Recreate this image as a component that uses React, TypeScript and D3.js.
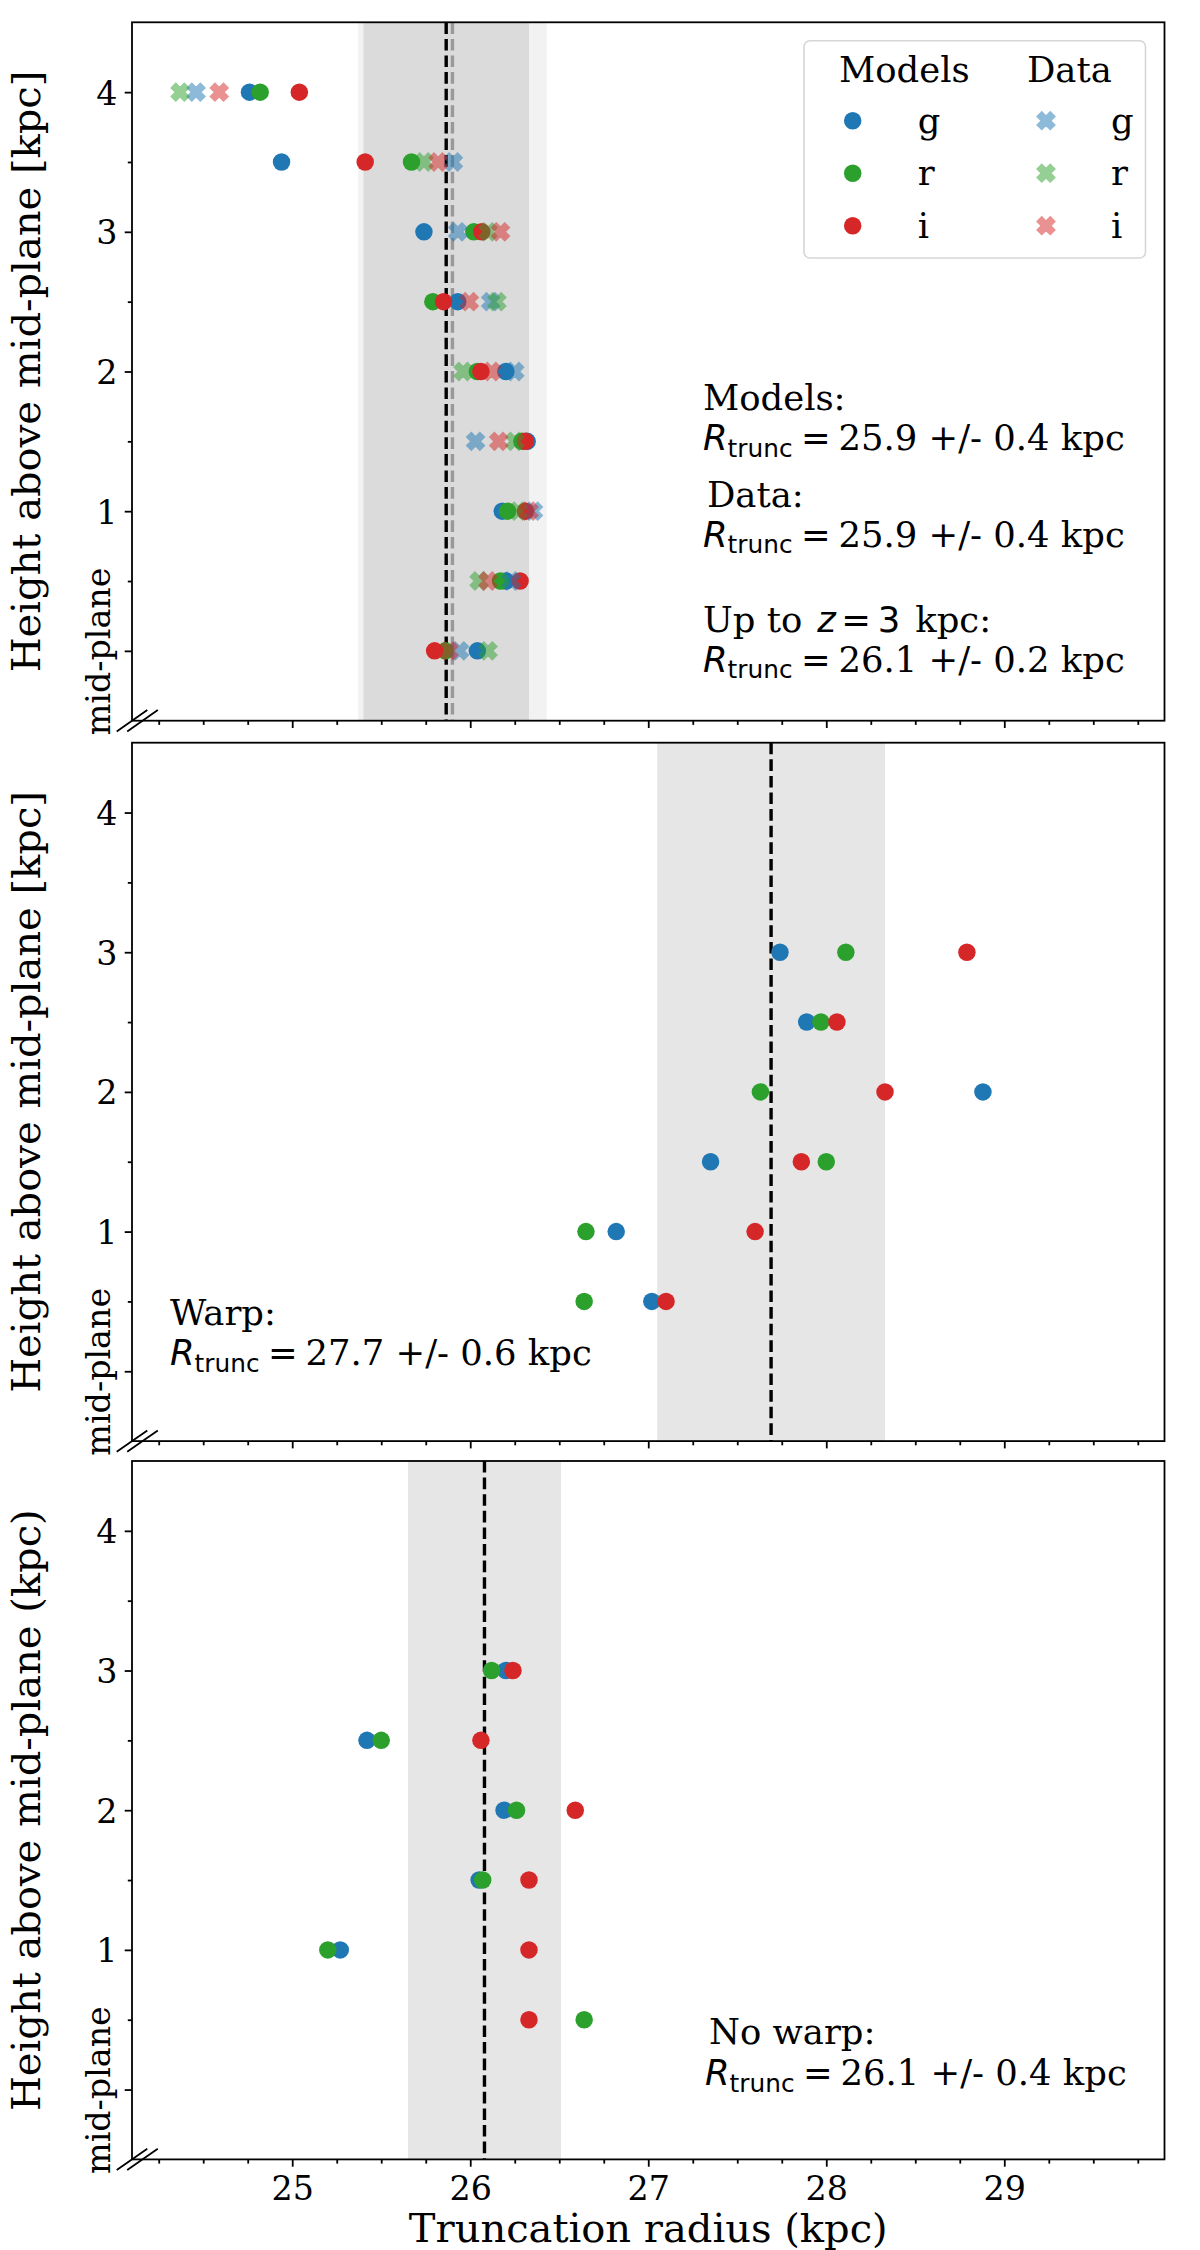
import React, { useEffect, useRef } from 'react';
import * as d3 from 'd3';

// heights above the mid-plane (kpc) for the top panel
const heights = [0, 0.5, 1, 1.5, 2, 2.5, 3, 3.5, 4];
// heights for the warp / no-warp panels
const subHeights = [0.5, 1, 1.5, 2, 2.5, 3];

// top panel: model fits (circles)
const modelG = [26.04, 26.2, 26.18, 26.32, 26.2, 25.93, 25.74, 24.94, 24.76];
const modelR = [25.86, 26.17, 26.21, 26.29, 26.04, 25.79, 26.02, 25.67, 24.82];
const modelI = [25.8, 26.28, 26.31, 26.31, 26.06, 25.85, 26.065, 25.41, 25.04];
// top panel: data (crosses)
const dataG = [25.94, 26.23, 26.355, 26.03, 26.25, 26.115, 25.93, 25.905, 24.46];
const dataR = [26.1, 26.05, 26.27, 26.25, 25.96, 26.15, 26.1, 25.74, 24.37];
const dataI = [25.88, 26.1, 26.33, 26.16, 26.12, 25.995, 26.17, 25.82, 24.59];

// middle panel: warp
const warpG = [27.02, 26.82, 27.35, 28.88, 27.89, 27.74];
const warpR = [26.64, 26.65, 28.0, 27.63, 27.97, 28.11];
const warpI = [27.1, 27.6, 27.86, 28.33, 28.06, 28.79];

// bottom panel: no warp
const noWarpG = [null, 25.27, 26.05, 26.19, 25.42, 26.2];
const noWarpR = [26.64, 25.2, 26.07, 26.26, 25.5, 26.12];
const noWarpI = [26.33, 26.33, 26.33, 26.59, 26.06, 26.24];

// mean truncation radius and spread (dashed line + shaded span)
const topModelMean = 25.865;
const topModelSpan = [25.4, 26.33];
const topDataMean = 25.9;
const topDataSpan = [25.37, 26.43];
const warpMean = 27.69;
const warpSpan = [27.05, 28.33];
const noWarpMean = 26.08;
const noWarpSpan = [25.65, 26.51];

const xMajor = [25, 26, 27, 28, 29];
const yMajor = [0, 1, 2, 3, 4];
const yTickLabels = ['mid-plane', '1', '2', '3', '4'];
const bandNames = ['g', 'r', 'i'];
const bandColors = ['#1f77b4', '#2ca02c', '#d62728'];

const SERIF = '"DejaVu Serif", serif';
const SANS = '"DejaVu Sans", sans-serif';

const App: React.FC = () => {
  const svgRef = useRef<SVGSVGElement>(null);

  useEffect(() => {
    if (!svgRef.current) return;
    const svg = d3.select(svgRef.current);
    svg.selectAll('*').remove();

    const width = 1200;
    const left = 132;
    const right = 1164.5;
    const panelH = 698.4;
    const panelTops = [22.3, 742.7, 1461];
    const tickFs = 33.3;
    const textFs = 35.4;
    const labelFs = 40;
    const markerSize = 17.5;
    const crossSize = 17;

    const x = d3.scaleLinear().domain([24.1, 29.9]).range([left, right]);
    const xMinor = d3.range(24.25, 29.9, 0.25).filter(v => Math.abs(v - Math.round(v)) > 1e-6);
    const yMinor = [0.5, 1.5, 2.5, 3.5];

    svg.append('rect').attr('width', width).attr('height', 2250).attr('fill', '#fff');

    const panels = [
      {
        models: [
          { hs: heights, xs: modelG },
          { hs: heights, xs: modelR },
          { hs: heights, xs: modelI },
        ],
        data: [
          { hs: heights, xs: dataG },
          { hs: heights, xs: dataR },
          { hs: heights, xs: dataI },
        ],
        spans: [
          { s: topDataSpan, op: 0.1 },
          { s: topModelSpan, op: 0.2 },
        ],
        lines: [
          { v: topDataMean, color: '#999999' },
          { v: topModelMean, color: '#000000' },
        ],
        ylabel: 'Height above mid-plane [kpc]',
      },
      {
        models: [
          { hs: subHeights, xs: warpG },
          { hs: subHeights, xs: warpR },
          { hs: subHeights, xs: warpI },
        ],
        data: [],
        spans: [{ s: warpSpan, op: 0.2 }],
        lines: [{ v: warpMean, color: '#000000' }],
        ylabel: 'Height above mid-plane [kpc]',
      },
      {
        models: [
          { hs: subHeights, xs: noWarpG },
          { hs: subHeights, xs: noWarpR },
          { hs: subHeights, xs: noWarpI },
        ],
        data: [],
        spans: [{ s: noWarpSpan, op: 0.2 }],
        lines: [{ v: noWarpMean, color: '#000000' }],
        ylabel: 'Height above mid-plane (kpc)',
      },
    ];

    // filled "X" marker: a cross turned 45 degrees, with an edge of the same colour
    const crossPath = d3.symbol(d3.symbolCross, 0.625 * crossSize * crossSize)();
    const drawCross = (sel: any, color: string) =>
      sel.attr('d', crossPath)
        .attr('fill', color)
        .attr('stroke', color)
        .attr('stroke-width', 2)
        .attr('stroke-linejoin', 'miter')
        .attr('opacity', 0.5);

    // R_trunc = value, mimicking matplotlib mathtext
    const rtrunc = (sel: any, tx: number, ty: number, value: string) => {
      const t = sel.append('text').attr('x', tx).attr('y', ty).attr('font-size', textFs).attr('fill', '#000');
      t.append('tspan').attr('font-family', SANS).attr('font-style', 'italic').text('R');
      t.append('tspan').attr('font-family', SANS).attr('font-size', textFs * 0.7).attr('dy', textFs * 0.19).text('trunc');
      t.append('tspan').attr('font-family', SANS).attr('dy', -textFs * 0.19).attr('dx', textFs * 0.24).text('=');
      t.append('tspan').attr('font-family', SERIF).attr('dx', textFs * 0.22).text(value);
    };
    const plain = (sel: any, tx: number, ty: number, s: string) =>
      sel.append('text').attr('x', tx).attr('y', ty).attr('font-size', textFs).attr('font-family', SERIF).text(s);

    panels.forEach((p, pi) => {
      const top = panelTops[pi];
      const bottom = top + panelH;
      const y = d3.scaleLinear().domain([-0.5, 4.5]).range([bottom, top]);
      const g = svg.append('g');

      // shaded spans
      p.spans.forEach(sp => {
        g.append('rect')
          .attr('x', x(sp.s[0]))
          .attr('y', top)
          .attr('width', x(sp.s[1]) - x(sp.s[0]))
          .attr('height', panelH)
          .attr('fill', '#808080')
          .attr('fill-opacity', sp.op);
      });

      // dashed mean lines
      p.lines.forEach(l => {
        g.append('line')
          .attr('x1', x(l.v)).attr('x2', x(l.v))
          .attr('y1', top).attr('y2', bottom)
          .attr('stroke', l.color)
          .attr('stroke-width', 3.4)
          .attr('stroke-dasharray', '11.6 5');
      });

      // model circles
      p.models.forEach((m, bi) => {
        const pts = m.hs.map((h, k) => ({ h, v: m.xs[k] })).filter(d => d.v != null);
        g.append('g')
          .selectAll('circle')
          .data(pts)
          .join('circle')
          .attr('cx', d => x(d.v as number))
          .attr('cy', d => y(d.h))
          .attr('r', markerSize / 2)
          .attr('fill', bandColors[bi]);
      });

      // data crosses
      p.data.forEach((m, bi) => {
        const pts = m.hs.map((h, k) => ({ h, v: m.xs[k] }));
        g.append('g')
          .selectAll('path')
          .data(pts)
          .join('path')
          .call(drawCross, bandColors[bi])
          .attr('transform', d => `translate(${x(d.v)},${y(d.h)}) rotate(45)`);
      });

      // frame
      g.append('rect')
        .attr('x', left).attr('y', top)
        .attr('width', right - left).attr('height', panelH)
        .attr('fill', 'none').attr('stroke', '#000').attr('stroke-width', 1.8);

      // broken-axis marks
      [0, 10.5].forEach(off => {
        g.append('line')
          .attr('x1', left + off - 15.3).attr('y1', bottom + 10.7)
          .attr('x2', left + off + 15.3).attr('y2', bottom - 10.7)
          .attr('stroke', '#000').attr('stroke-width', 1.8);
      });

      const styleAxis = (ax: any) => {
        ax.select('.domain').remove();
        ax.attr('color', '#000').attr('font-family', SERIF).attr('font-size', tickFs);
        ax.selectAll('.tick line').attr('stroke-width', 1.8);
        ax.selectAll('.tick text').attr('fill', '#000');
        ax.selectAll('.tick text').filter(function (this: any) { return !this.textContent; }).remove();
      };

      // x axis
      const showX = pi === 2;
      const xa = g.append('g').attr('transform', `translate(0,${bottom})`)
        .call(d3.axisBottom(x).tickValues(xMajor).tickSize(7.3).tickPadding(10.1)
          .tickFormat((d: any) => (showX ? d3.format('d')(d) : '')));
      styleAxis(xa);
      const xm = g.append('g').attr('transform', `translate(0,${bottom})`)
        .call(d3.axisBottom(x).tickValues(xMinor).tickSize(4.2).tickFormat(() => ''));
      styleAxis(xm);

      // y axis
      const ya = g.append('g').attr('transform', `translate(${left},0)`)
        .call(d3.axisLeft(y).tickValues(yMajor).tickSize(7.3).tickPadding(7.3)
          .tickFormat((d: any) => yTickLabels[yMajor.indexOf(d)]));
      styleAxis(ya);
      ya.selectAll('.tick text').attr('dy', '0.36em');
      ya.selectAll('.tick text')
        .filter((d: any) => d === 0)
        .attr('x', null)
        .attr('dy', null)
        .attr('text-anchor', 'middle')
        .attr('transform', 'translate(-22.5,0) rotate(-90)');
      const ym = g.append('g').attr('transform', `translate(${left},0)`)
        .call(d3.axisLeft(y).tickValues(yMinor).tickSize(4.2).tickFormat(() => ''));
      styleAxis(ym);

      // y label
      g.append('text')
        .attr('transform', `translate(40,${top + panelH / 2}) rotate(-90)`)
        .attr('text-anchor', 'middle')
        .attr('font-family', SERIF)
        .attr('font-size', labelFs)
        .text(p.ylabel);

      // annotations
      if (pi === 0) {
        plain(g, 703, 410, 'Models:');
        rtrunc(g, 703, 450, '25.9 +/- 0.4 kpc');
        plain(g, 707, 506.7, 'Data:');
        rtrunc(g, 703, 546.7, '25.9 +/- 0.4 kpc');
        const t = g.append('text').attr('x', 703).attr('y', 631.7).attr('font-size', textFs);
        t.append('tspan').attr('font-family', SERIF).text('Up to');
        t.append('tspan').attr('font-family', SANS).attr('font-style', 'italic').attr('dx', 15).text('z');
        t.append('tspan').attr('font-family', SANS).attr('dx', 5.5).text('=');
        t.append('tspan').attr('font-family', SANS).attr('dx', 6.7).text('3');
        t.append('tspan').attr('font-family', SERIF).attr('dx', 15).text('kpc:');
        rtrunc(g, 703, 671.7, '26.1 +/- 0.2 kpc');

        // legend
        const lg = g.append('g');
        lg.append('rect')
          .attr('x', 804).attr('y', 40.7).attr('width', 341.5).attr('height', 217.3)
          .attr('rx', 6).attr('fill', '#fff').attr('fill-opacity', 0.8)
          .attr('stroke', '#d6d6d6').attr('stroke-width', 1.6);
        plain(lg, 839, 81.7, 'Models');
        plain(lg, 1027, 81.7, 'Data');
        bandNames.forEach((b, bi) => {
          const cy = 120.7 + bi * 52.5;
          lg.append('circle').attr('cx', 852.7).attr('cy', cy).attr('r', markerSize / 2).attr('fill', bandColors[bi]);
          plain(lg, 917.8, cy + 12, b);
          lg.append('path')
            .call(drawCross, bandColors[bi])
            .attr('transform', `translate(1046,${cy}) rotate(45)`);
          plain(lg, 1111, cy + 12, b);
        });
      } else if (pi === 1) {
        plain(g, 170, 1325, 'Warp:');
        rtrunc(g, 170, 1365, '27.7 +/- 0.6 kpc');
      } else {
        plain(g, 709, 2044, 'No warp:');
        rtrunc(g, 705, 2085, '26.1 +/- 0.4 kpc');
      }
    });

    // x label
    svg.append('text')
      .attr('x', (left + right) / 2)
      .attr('y', 2242)
      .attr('text-anchor', 'middle')
      .attr('font-family', SERIF)
      .attr('font-size', labelFs)
      .text('Truncation radius (kpc)');
  }, []);

  return (
    <svg
      ref={svgRef}
      width={1200}
      height={2250}
      style={{ position: 'absolute', left: 0, top: 0, background: '#fff' }}
    ></svg>
  );
};

export default App;
